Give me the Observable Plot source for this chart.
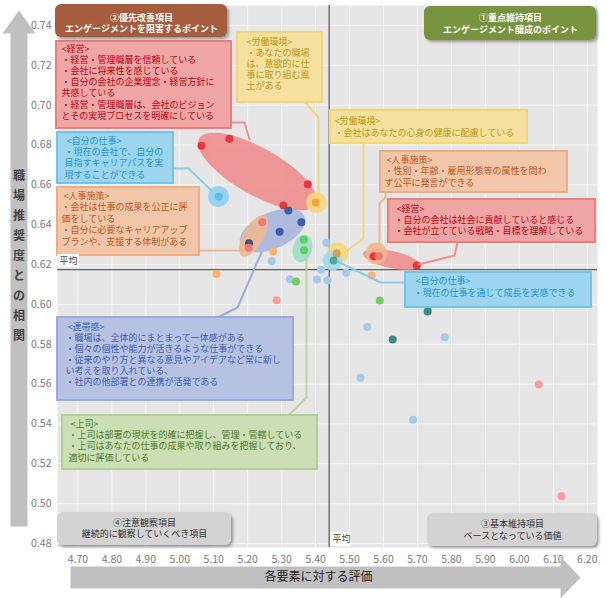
<!DOCTYPE html>
<html><head><meta charset="utf-8">
<script src="https://cdn.jsdelivr.net/npm/d3@7"></script>
<script src="https://cdn.jsdelivr.net/npm/@observablehq/plot@0.6"></script>
<style>
html,body{margin:0;padding:0;background:#fff;}
#chart{width:607px;height:598px;}
</style></head>
<body><div id="chart"></div>
<script>
// ---------- data ----------
const xTicks = [4.70,4.80,4.90,5.00,5.10,5.20,5.30,5.40,5.50,5.60,5.70,5.80,5.90,6.00,6.10,6.20];
const yTicks = [0.48,0.50,0.52,0.54,0.56,0.58,0.60,0.62,0.64,0.66,0.68,0.70,0.72,0.74];
const score = [5.064,5.146,5.377,5.305,5.320,5.358,5.294,5.204,5.243,5.203,5.115,5.400,5.365,5.366,5.275,5.271,5.432,5.462,5.453,5.108,5.324,5.342,5.404,5.435,5.416,5.571,5.586,5.698,5.490,5.565,5.589,5.285,5.730,5.552,5.627,5.780,5.532,6.057,5.687,6.124];
const corr  = [0.6796,0.6831,0.6603,0.6496,0.6471,0.6412,0.6364,0.6307,0.6412,0.6284,0.6541,0.6511,0.6324,0.6272,0.6265,0.6217,0.6309,0.6255,0.6220,0.6152,0.6126,0.6115,0.6125,0.6121,0.6174,0.6242,0.6242,0.6195,0.6159,0.6145,0.6020,0.6021,0.5964,0.5886,0.5824,0.5835,0.5632,0.5598,0.5421,0.5037];
const group = ["R","R","R","R","B","B","B","DB","S","S","SB","Y","G","G","O","LB","LB","T","TM","O","LB","LG","LB","LB","LB","R","S","R","LB","O","LG","LR","TL","LB","TL","LB","LB","LR","LB","LR"];
const meanScore = 5.44, meanCorr = 0.6175;
const xLabel = "各要素に対する評価";
const yLabel = "職場推奨度との相関";
const meanLabel = "平均";

// ---------- styles ----------
const palette = {R:"#e8363c", S:"#ea7c72", LR:"#ff9c99", B:"#3e5fa8", DB:"#4a5072", LB:"#a3cbe8", SB:"#5fbde9",
  O:"#ffb26e", Y:"#f7a535", T:"#c9a653", G:"#5ccf69", LG:"#74cb62", TL:"#3a8b80", TM:"#5aa39c"};
const font = "'Noto Sans CJK JP', 'Noto Sans', sans-serif";

// ---------- layout (annotation geometry in pixels, converted via scales) ----------
const W = 607, H = 598, M = {top:5, right:10, bottom:51, left:57};
const xDomain = [4.64, 6.23], yDomain = [0.478, 0.75];
const sx = d3.scaleLinear(xDomain, [M.left, W - M.right]);
const sy = d3.scaleLinear(yDomain, [H - M.bottom, M.top]);
const X = px => sx.invert(px), Y = py => sy.invert(py);
const P = ([px, py]) => ({x: X(px), y: Y(py)});

const RED = {fill:"#f1a2a2", stroke:"#f47b7b", color:"#c0000c", line:"#f08585"};
const BLU = {fill:"#99d3ee", stroke:"#6fc5ec", color:"#1a96d4", line:"#7fcbeb"};
const ORG = {fill:"#f2c4a4", stroke:"#f0ad84", color:"#c4551a", line:"#f0b088"};
const YEL = {fill:"#f6df9c", stroke:"#f4d57a", color:"#bf960c", line:"#f4d56e"};
const NAV = {fill:"#b3c0e2", stroke:"#98abdf", color:"#3e5db0", line:"#91a7dc"};
const GRN = {fill:"#c9ddb1", stroke:"#aed093", color:"#4e7c24", line:"#b0d496"};

const callouts = [
  {st:RED, box:[56,41,231,128], tx:61, ty:46.7, lh:11.1, path:[[231,122],[244,122],[249,139]],
   lines:["<経営>","・経営・管理職層を信頼している","・会社に将来性を感じている","・自分の会社の企業理念・経営方針に","共感している","・経営・管理職層は、会社のビジョン","とその実現プロセスを明確にしている"]},
  {st:BLU, box:[57,132,173,183], tx:64, ty:138, lh:11.4, path:[[173,168],[188,168],[211,190]],
   lines:[" <自分の仕事>","・現在の会社で、自分の","目指すキャリアパスを実","現することができる"]},
  {st:ORG, box:[57,187,199,255], tx:61, ty:193.5, lh:11.4, path:[[199,250],[243,250]],
   lines:[" <人事施策>","・会社は仕事の成果を公正に評","価をしている","・自分に必要なキャリアアップ","プランや、支援する体制がある"]},
  {st:YEL, box:[237,32,322,102], tx:246, ty:40, lh:11, path:[[305,102],[318,117],[318,192]],
   lines:["<労働環境>","・あなたの職場","は、意欲的に仕","事に取り組む風","土がある"]},
  {st:YEL, box:[330,110,527,143], tx:334, ty:118.3, lh:11.7, path:[[363,143],[363,238],[344,252]],
   lines:["<労働環境>","・会社はあなたの心身の健康に配慮している"]},
  {st:ORG, box:[380,151,567,192], tx:384, ty:157.5, lh:11.3, path:[[385,192],[385,197],[379,203],[379,243]],
   lines:[" <人事施策>","・性別・年齢・雇用形態等の属性を問わ","ず公平に発言ができる"]},
  {st:RED, box:[388,199,595,242], tx:394, ty:207, lh:11, path:[[457,242],[454,255],[418,264]],
   lines:[" <経営>","・自分の会社は社会に貢献していると感じる","・会社が立てている戦略・目標を理解している"]},
  {st:BLU, box:[405,272,591,307], tx:413, ty:278, lh:12, path:[[337,261],[380,282],[405,282]],
   lines:[" <自分の仕事>","・現在の仕事を通じて成長を実感できる"]},
  {st:NAV, box:[57,317,293,400], tx:65, ty:325, lh:10.9, path:[[217,317],[237,307],[261,252]],
   lines:[" <連帯感>","・職場は、全体的にまとまって一体感がある","・個々の個性や能力が活きるような仕事ができる","・従来のやり方と異なる意見やアイデアなど常に新し","い考えを取り入れている、","・社内の他部署との連携が活発である"]},
  {st:GRN, box:[62,415,317,469], tx:68, ty:421, lh:11.4, path:[[288,415],[306,397],[306,259]],
   lines:[" <上司>","・上司は部署の現状を的確に把握し、管理・管轄している","・上司はあなたの仕事の成果や取り組みを把握しており、","適切に評価している"]}
];

const quadrants = [
  {box:[55,4,227,37], fill:"#a65b3d", color:"#fff", weight:"bold", cx:141, ty:15, lines:["②優先改善項目","エンゲージメントを阻害するポイント"]},
  {box:[424,6,596,40], fill:"#77933c", color:"#fff", weight:"bold", cx:510, ty:15.5, lines:["①重点維持項目","エンゲージメント醸成のポイント"]},
  {box:[57,512,231,545], fill:"#d3d3d3", color:"#333", weight:"normal", cx:144, ty:520, lines:["④注意観察項目","継続的に観察していくべき項目"]},
  {box:[427,513,597,546], fill:"#d3d3d3", color:"#333", weight:"normal", cx:512, ty:521.5, lines:["③基本維持項目","ベースとなっている価値"]}
];

const ellipses = [
  {c:[257,171], a:67, b:23.5, rot:29.5, fill:"#ef8f8f"},
  {c:[272,230], a:35, b:18, rot:-24, fill:"#a9b7de"},
  {c:[253,235.5], a:23, b:10, rot:-60, fill:"#ebb896"},
  {c:[302,248], a:14, b:9.5, rot:-75, fill:"#a2dcbf"},
  {c:[391,259], a:29, b:8.5, rot:12, fill:"#ef9090"}
];
const halos = [
  {c:[218,196], r:10.5, fill:"#8dd0ef"},
  {c:[316,202], r:10.5, fill:"#f6d77d"},
  {c:[376,253], r:11, fill:"#f0b690"},
  {c:[337,253], r:11, fill:"#f6d77d"},
  {c:[332,260], r:10, fill:"#a5d8ee"}
];

function ellipseSymbol(a, b, deg) {
  const t = deg * Math.PI / 180, c = Math.cos(t), s = Math.sin(t);
  return {draw(ctx) {
    const n = 72;
    for (let i = 0; i < n; i++) {
      const u = i / n * 2 * Math.PI, ex = a * Math.cos(u), ey = b * Math.sin(u);
      const px = ex * c - ey * s, py = ex * s + ey * c;
      if (i === 0) ctx.moveTo(px, py); else ctx.lineTo(px, py);
    }
    ctx.closePath();
  }};
}

const points = score.map((s, i) => ({score: s, corr: corr[i], group: group[i]}));

const marks = [];
marks.push(Plot.frame({fill: "#e6e6e6", stroke: "none"}));
marks.push(Plot.ruleX(xTicks, {stroke: "#f5f5f5", strokeWidth: 1}));
marks.push(Plot.ruleY(yTicks, {stroke: "#f5f5f5", strokeWidth: 1}));
marks.push(Plot.ruleX([meanScore], {stroke: "#606060", strokeWidth: 1.3}));
marks.push(Plot.ruleY([meanCorr], {stroke: "#606060", strokeWidth: 1.3}));

for (const e of ellipses) {
  marks.push(Plot.dot([P(e.c)], {x: "x", y: "y", symbol: ellipseSymbol(e.a, e.b, e.rot), fill: e.fill, stroke: "none", fillOpacity: 0.92}));
}
for (const h of halos) {
  marks.push(Plot.dot([P(h.c)], {x: "x", y: "y", r: h.r, fill: h.fill, stroke: "none", fillOpacity: 0.9}));
}
marks.push(Plot.dot(points, {x: "score", y: "corr", r: 4, fill: d => palette[d.group], stroke: "none"}));

// connectors
const conn = callouts.flatMap((c, i) => c.path.map(p => ({id: i, ...P(p), col: c.st.line})));
marks.push(Plot.line(conn, {x: "x", y: "y", z: "id", stroke: "col", strokeWidth: 2, strokeOpacity: 0.9}));

// callout boxes
marks.push(Plot.rect(callouts, {x1: d => X(d.box[0]), y1: d => Y(d.box[1]), x2: d => X(d.box[2]), y2: d => Y(d.box[3]),
  fill: d => d.st.fill, stroke: d => d.st.stroke, strokeWidth: 2, fillOpacity: 0.95}));
for (const c of callouts) {
  marks.push(Plot.text([c.lines.join("\n")], {x: () => X(c.tx), y: () => Y(c.ty - 3), text: d => d,
    textAnchor: "start", lineAnchor: "top", lineHeight: c.lh / 9, fontSize: 9, fill: c.st.color, fontFamily: font}));
}

// quadrant boxes
marks.push(Plot.rect(quadrants, {x1: d => X(d.box[0]), y1: d => Y(d.box[1]), x2: d => X(d.box[2]), y2: d => Y(d.box[3]),
  fill: d => d.fill, rx: 6, ariaDescription: "quadrant"}));
for (const q of quadrants) {
  marks.push(Plot.text([q.lines.join("\n")], {x: () => X(q.cx), y: () => Y(q.ty - 3), text: d => d,
    textAnchor: "middle", lineAnchor: "top", lineHeight: 11.5 / 9, fontSize: 9, fontWeight: q.weight, fill: q.color, fontFamily: font}));
}

// mean labels
const meanBoxes = [[57,254,79,267],[330,532,351,546]];
marks.push(Plot.rect(meanBoxes, {x1: d => X(d[0]), y1: d => Y(d[1]), x2: d => X(d[2]), y2: d => Y(d[3]), fill: "white"}));
marks.push(Plot.text([meanLabel, meanLabel], {x: (d, i) => X([59, 332][i]), y: (d, i) => Y([260.5, 539][i]),
  text: d => d, textAnchor: "start", fontSize: 9, fill: "#444", fontFamily: font}));

// axis arrows
const yArrow = [[10,526],[10,33],[2,33],[18.5,10],[35,33],[27,33],[27,526]];
const xArrow = [[70,566],[560,566],[560,556],[580,577],[560,598],[560,588],[70,588]];
marks.push(Plot.line(yArrow.map(P), {x: "x", y: "y", fill: "#c0c0c0", stroke: "none", curve: "linear-closed"}));
marks.push(Plot.line(xArrow.map(P), {x: "x", y: "y", fill: "#c0c0c0", stroke: "none", curve: "linear-closed"}));
marks.push(Plot.text([xLabel], {x: () => X(318), y: () => Y(577), text: d => d, textAnchor: "middle", fontSize: 12, fill: "#222", fontFamily: font}));
marks.push(Plot.text([Array.from(yLabel).join("\n")], {x: () => X(18.5), y: () => Y(165), text: d => d, textAnchor: "middle",
  lineAnchor: "top", lineHeight: 20 / 12, fontSize: 12, fontWeight: "bold", fill: "#444", fontFamily: font}));

const plot = Plot.plot({
  width: W, height: H,
  marginTop: M.top, marginRight: M.right, marginBottom: M.bottom, marginLeft: M.left,
  x: {domain: xDomain, ticks: xTicks, tickFormat: d3.format(".2f"), tickSize: 0, tickPadding: 8, label: null},
  y: {domain: yDomain, ticks: yTicks, tickFormat: d3.format(".2f"), tickSize: 0, tickPadding: 6, label: null},
  color: {type: "identity"},
  style: {fontFamily: font, fontSize: "10.5px", color: "#7a7a7a", background: "white", overflow: "visible"},
  marks
});
document.getElementById("chart").appendChild(plot);

// soft shadow on quadrant labels
const svg = d3.select(plot.tagName.toLowerCase() === "svg" ? plot : plot.querySelector("svg"));
const defs = svg.insert("defs", ":first-child");
defs.append("filter").attr("id", "qshadow").attr("x", "-10%").attr("y", "-20%").attr("width", "130%").attr("height", "160%")
  .append("feDropShadow").attr("dx", 2).attr("dy", 2).attr("stdDeviation", 1.5).attr("flood-color", "#000").attr("flood-opacity", 0.35);
svg.selectAll('g[aria-description="quadrant"]').attr("filter", "url(#qshadow)");
</script>
</body></html>
